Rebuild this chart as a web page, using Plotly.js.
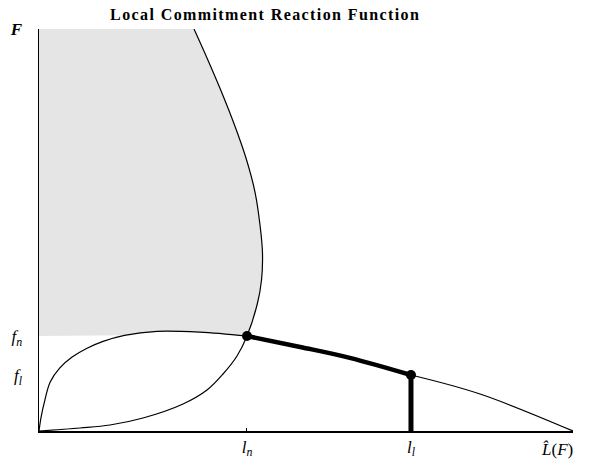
<!DOCTYPE html>
<html>
<head>
<meta charset="utf-8">
<script src="https://cdn.plot.ly/plotly-3.0.1.min.js"></script>
<style>
body{margin:0;padding:0;background:#fff;}
#chart{width:605px;height:466px;}
.gtitle{letter-spacing:1.4px;}
</style>
</head>
<body>
<div id="chart"></div>
<script>
// Key levels (normalised units: L-hat = 1, F top = 1)
const lN = 0.3895, lL = 0.6966, lHat = 1.0;
const fN = 0.2363, fL = 0.1393, fTop = 1.0;

// Hump-shaped curve (reaction curve) from origin up to the l_n point
const humpX = [0, 0.004, 0.011, 0.021, 0.039, 0.062, 0.090, 0.120, 0.160, 0.221, 0.301, 0.3895];
const humpY = [0, 0.035, 0.077, 0.122, 0.157, 0.184, 0.206, 0.223, 0.238, 0.248, 0.246, 0.2363];

// Thick committed branch from l_n to l_l
const branchX = [0.3895, 0.489, 0.582, 0.6966];
const branchY = [0.2363, 0.209, 0.182, 0.1393];

// Thin tail from l_l to L-hat
const tailX = [0.6966, 0.826, 1.0];
const tailY = [0.1393, 0.092, 0];

// Backward-bending curve from origin to top
const curveX = [0, 0.0768, 0.133, 0.1948, 0.2697, 0.3146, 0.3446, 0.3708, 0.3895, 0.4092, 0.4167, 0.4185, 0.4139, 0.4045, 0.3876, 0.3661, 0.3418, 0.3146, 0.2903];
const curveY = [0, 0.0075, 0.0149, 0.0323, 0.0672, 0.102, 0.1418, 0.1866, 0.2363, 0.3184, 0.3756, 0.4428, 0.5124, 0.5945, 0.6791, 0.7612, 0.8433, 0.9279, 1.0];

// Tick labels
const xTickVals = [lN, lL];
const xTickText = ['<i>l</i><sub><i>n</i></sub>', '<i>l</i><sub><i>l</i></sub>'];
const yTickVals = [fL, fN, fTop];
const yTickText = ['<i>f</i><sub><i>l</i></sub>', '<i>f</i><sub><i>n</i></sub>', '<b><i>F</i></b>'];

// Build shaded region from the curves
const iN = curveX.indexOf(lN);
const upperX = curveX.slice(iN).reverse();
const upperY = curveY.slice(iN).reverse();
const hStart = humpY.findIndex(v => v >= fN);
const humpSegX = humpX.slice(hStart).reverse();
const humpSegY = humpY.slice(hStart).reverse();
const fillX = [0, 0].concat(upperX, humpSegX, [0]);
const fillY = [fN, fTop].concat(upperY, humpSegY, [fN]);

const thin = {color: '#000', width: 1.2, shape: 'spline', smoothing: 1};
const serif = 'Liberation Serif, Times New Roman, serif';

const traces = [
  {x: fillX, y: fillY, mode: 'lines', fill: 'toself', fillcolor: '#e5e5e5', line: {width: 0}, hoverinfo: 'skip'},
  {x: curveX, y: curveY, mode: 'lines', line: thin},
  {x: humpX, y: humpY, mode: 'lines', line: thin},
  {x: tailX, y: tailY, mode: 'lines', line: thin},
  {x: branchX, y: branchY, mode: 'lines', line: {color: '#000', width: 4.5, shape: 'spline', smoothing: 1}},
  {x: [lL, lL], y: [0, fL], mode: 'lines', line: {color: '#000', width: 5}},
  {x: [lN, lL], y: [fN, fL], mode: 'markers', marker: {color: '#000', size: 10}, cliponaxis: false}
];

const layout = {
  width: 605, height: 466,
  margin: {l: 39, r: 32, t: 29, b: 35},
  paper_bgcolor: '#fff', plot_bgcolor: '#fff',
  showlegend: false,
  title: {text: '<b>Local Commitment Reaction Function</b>', x: 0.4236, xref: 'paper', xanchor: 'center', y: 0.969, yref: 'container', yanchor: 'middle', font: {family: serif, size: 16, color: '#000'}},
  xaxis: {range: [0, 1], showgrid: false, zeroline: false, showline: true, linecolor: '#000', linewidth: 1.5,
          tickvals: xTickVals, ticktext: xTickText, ticks: 'inside', ticklen: 3, tickcolor: '#000',
          tickfont: {family: serif, size: 17, color: '#000'}, fixedrange: true},
  yaxis: {range: [0, 1], showgrid: false, zeroline: false, showline: true, linecolor: '#000', linewidth: 1.5,
          tickvals: yTickVals, ticktext: yTickText, ticks: '', ticklabelstandoff: 12,
          tickfont: {family: serif, size: 17, color: '#000'}, fixedrange: true},
  annotations: [
    {x: lHat, y: 0, xref: 'x', yref: 'y', text: '<i>L\u0302</i>(<i>F</i>)', showarrow: false,
     xanchor: 'center', yanchor: 'top', xshift: -16, yshift: -7, font: {family: serif, size: 17, color: '#000'}}
  ]
};

Plotly.newPlot('chart', traces, layout, {displayModeBar: false, staticPlot: true});
</script>
</body>
</html>
